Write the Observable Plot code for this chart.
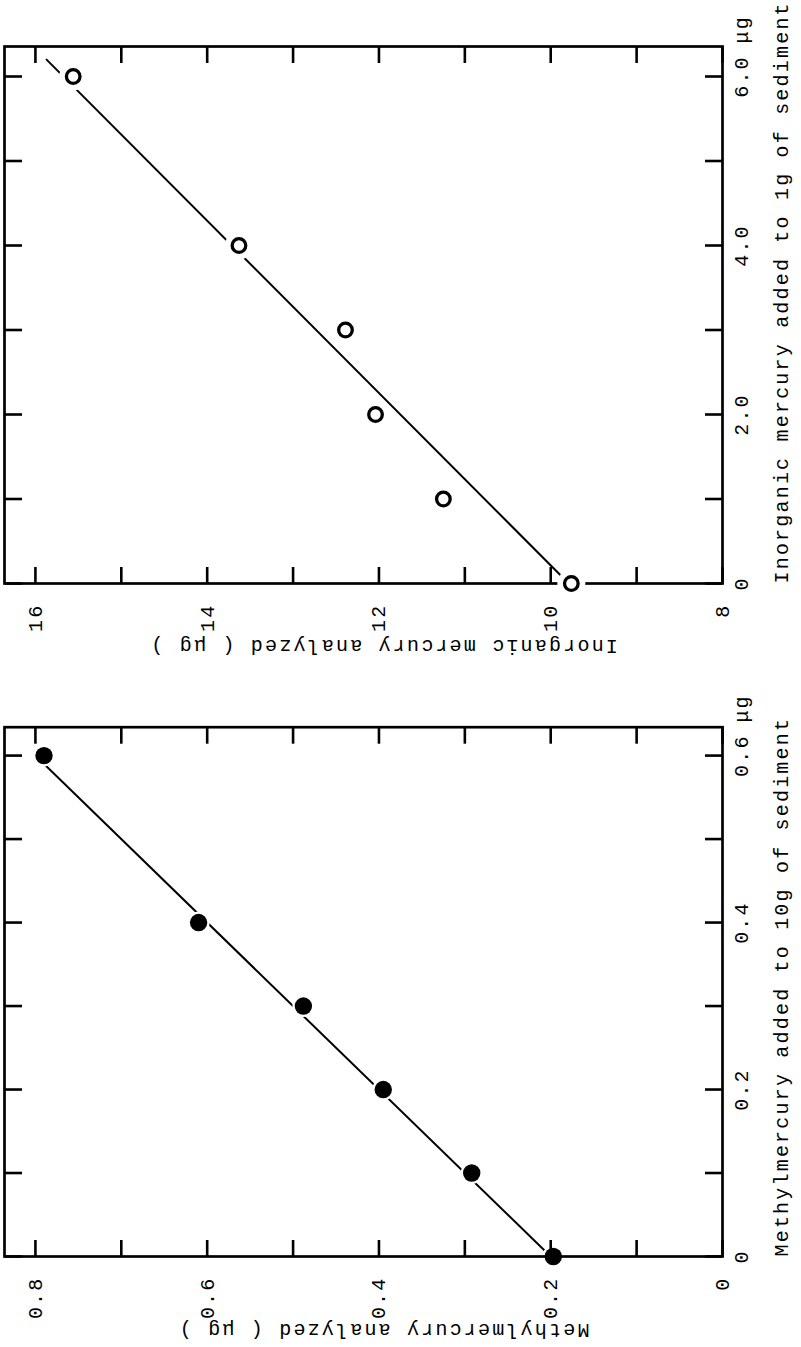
<!DOCTYPE html>
<html><head><meta charset="utf-8">
<script src="https://cdn.jsdelivr.net/npm/d3@7"></script>
<script src="https://cdn.jsdelivr.net/npm/@observablehq/plot@0.6"></script>
<style>
html,body{margin:0;padding:0;background:#fff;overflow:hidden;width:801px;height:1347px;}
#wrap{position:absolute;left:0;top:0;width:1347px;height:801px;transform-origin:0 0;transform:translate(0px,1347px) rotate(-90deg);background:#fff;}
#methyl{position:absolute;left:0;top:0;}
#inorg{position:absolute;left:673px;top:0;}
</style></head><body><div id="wrap"><div id="methyl"></div><div id="inorg"></div></div>
<script>
// ---- Methylmercury panel data ----
const methylAdded = [0, 0.1, 0.2, 0.3, 0.4, 0.6];
const methylAnalyzed = [0.197, 0.292, 0.395, 0.488, 0.61, 0.79];
const methylFitAdded = [0, 0.6];
const methylFitAnalyzed = [0.2, 0.8];
const methylXTicks = [0, 0.1, 0.2, 0.3, 0.4, 0.5, 0.6];
const methylXLabelValues = [0, 0.2, 0.4, 0.6];
const methylXLabelText = ["0", "0.2", "0.4", "0.6"];
const methylYTicks = [0, 0.1, 0.2, 0.3, 0.4, 0.5, 0.6, 0.7, 0.8];
const methylYLabelValues = [0, 0.2, 0.4, 0.6, 0.8];
const methylYLabelText = ["0", "0.2", "0.4", "0.6", "0.8"];
const methylUnitAt = [0.6];
const methylXTitle = "Methylmercury added to 10g of sediment";
const methylYTitle = "Methylmercury analyzed ( μg )";

// ---- Inorganic mercury panel data ----
const inorgAdded = [0, 1, 2, 3, 4, 6];
const inorgAnalyzed = [9.76, 11.25, 12.04, 12.39, 13.63, 15.56];
const inorgFitAdded = [0, 6.2];
const inorgFitAnalyzed = [9.79, 15.87];
const inorgXTicks = [0, 1, 2, 3, 4, 5, 6];
const inorgXLabelValues = [0, 2, 4, 6];
const inorgXLabelText = ["0", "2.0", "4.0", "6.0"];
const inorgYTicks = [8, 9, 10, 11, 12, 13, 14, 15, 16];
const inorgYLabelValues = [8, 10, 12, 14, 16];
const inorgYLabelText = ["8", "10", "12", "14", "16"];
const inorgUnitAt = [6];
const inorgXTitle = "Inorganic mercury added to 1g of sediment";
const inorgYTitle = "Inorganic mercury analyzed ( μg )";

const unitLabel = ["μg"];
const FONT = "'Courier New', 'Liberation Mono', 'DejaVu Sans Mono', monospace";

function panel(cfg) {
  const pts = cfg.added.map((a, i) => ({added: a, analyzed: cfg.analyzed[i]}));
  const fit = cfg.fitAdded.map((a, i) => ({added: a, analyzed: cfg.fitAnalyzed[i]}));
  const xFmt = new Map(cfg.xLabelValues.map((v, i) => [v, cfg.xLabelText[i]]));
  const yFmt = new Map(cfg.yLabelValues.map((v, i) => [v, cfg.yLabelText[i]]));
  const tk = {strokeWidth: 2.6, tickSize: -17, tickFormat: () => "", label: null};
  const frameMarks = [
    Plot.frame({strokeWidth: 2.7}),
    Plot.axisX(cfg.xTicks, {anchor: "bottom", ...tk}),
    Plot.axisX(cfg.xTicks, {anchor: "top", ...tk}),
    Plot.axisY(cfg.yTicks, {anchor: "left", ...tk}),
    Plot.axisY(cfg.yTicks, {anchor: "right", ...tk})
  ];
  const line = Plot.line(fit, {x: "added", y: "analyzed", stroke: "black", strokeWidth: 2});
  const halo = Plot.dot(pts, {x: "added", y: "analyzed", r: cfg.haloR, fill: "white", stroke: null});
  const dots = cfg.filled
    ? Plot.dot(pts, {x: "added", y: "analyzed", r: 8.7, fill: "black", stroke: null})
    : Plot.dot(pts, {x: "added", y: "analyzed", r: 6.8, fill: "white", stroke: "black", strokeWidth: 3.3});
  const texts = [
    Plot.axisX(cfg.xLabelValues, {anchor: "bottom", tickSize: 0, tickPadding: 11, tickFormat: d => xFmt.get(d), label: null, fontSize: 20}),
    Plot.axisY(cfg.yLabelValues, {anchor: "left", tickSize: 0, tickPadding: 20, tickFormat: d => yFmt.get(d), label: null, fontSize: 20}),
    Plot.text(cfg.unitAt, {x: d => d, frameAnchor: "bottom", dy: 19, dx: 33, textAnchor: "start", lineAnchor: "middle", text: () => unitLabel[0], fontSize: 20}),
    Plot.text([cfg.xTitle], {frameAnchor: "bottom-left", dy: 59, textAnchor: "start", lineAnchor: "middle", text: d => d, fontSize: 20}),
    Plot.text([cfg.yTitle], {frameAnchor: "left", dx: cfg.yTitleDx, dy: 20, rotate: -90, textAnchor: "middle", lineAnchor: "middle", text: d => d, fontSize: 20})
  ];
  const marks = cfg.filled
    ? [line, halo, ...frameMarks, dots, ...texts]
    : [line, ...frameMarks, halo, dots, ...texts];
  return Plot.plot({
    width: cfg.width, height: 801,
    marginLeft: 90, marginRight: cfg.marginRight, marginTop: 4, marginBottom: 79,
    x: {domain: cfg.xDomain},
    y: {domain: cfg.yDomain},
    style: {fontFamily: FONT, fontSize: "20px", letterSpacing: "2.2px", background: "white", color: "black", overflow: "visible"},
    marks
  });
}

document.getElementById("methyl").appendChild(panel({
  width: 673, marginRight: 53.7, xDomain: [0, 0.634], yDomain: [0, 0.836],
  added: methylAdded, analyzed: methylAnalyzed, fitAdded: methylFitAdded, fitAnalyzed: methylFitAnalyzed,
  xTicks: methylXTicks, xLabelValues: methylXLabelValues, xLabelText: methylXLabelText,
  yTicks: methylYTicks, yLabelValues: methylYLabelValues, yLabelText: methylYLabelText,
  unitAt: methylUnitAt, xTitle: methylXTitle, yTitle: methylYTitle, yTitleDx: -74,
  filled: true, haloR: 11
}));
document.getElementById("inorg").appendChild(panel({
  width: 674, marginRight: 47, xDomain: [0, 6.355], yDomain: [8, 16.36],
  added: inorgAdded, analyzed: inorgAnalyzed, fitAdded: inorgFitAdded, fitAnalyzed: inorgFitAnalyzed,
  xTicks: inorgXTicks, xLabelValues: inorgXLabelValues, xLabelText: inorgXLabelText,
  yTicks: inorgYTicks, yLabelValues: inorgYLabelValues, yLabelText: inorgYLabelText,
  unitAt: inorgUnitAt, xTitle: inorgXTitle, yTitle: inorgYTitle, yTitleDx: -63,
  filled: false, haloR: 14
}));
</script></body></html>
